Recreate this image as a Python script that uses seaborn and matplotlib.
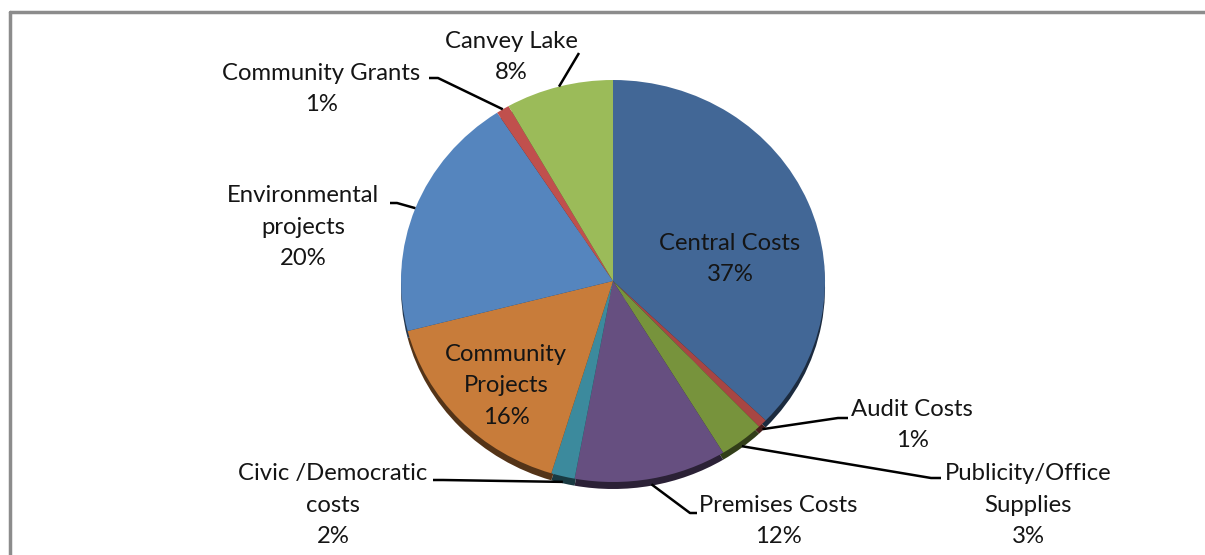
import matplotlib
matplotlib.use("Agg")
import matplotlib.pyplot as plt
import seaborn as sns
import numpy as np
from matplotlib.transforms import Affine2D
from matplotlib.colors import to_rgb

# ---- data ----
categories = ["Central Costs", "Audit Costs", "Publicity/Office\nSupplies",
              "Premises Costs", "Civic /Democratic\ncosts", "Community\nProjects",
              "Environmental\nprojects", "Community Grants", "Canvey Lake"]
shares = [37.2, 0.7, 3.4, 11.6, 1.8, 16.3, 19.8, 1.0, 8.2]
colors = ["#426796", "#A84643", "#77933C", "#664F80", "#3C8A9D",
          "#C87C3A", "#5585BE", "#C0504D", "#9BBB59"]

sns.set_theme(style="white")
plt.rcParams["font.family"] = ["Lato", "DejaVu Sans"]

W, H = 1205, 555
fig = plt.figure(figsize=(W / 100, H / 100), dpi=100)
ax = fig.add_axes([0, 0, 1, 1])

def Y(py):
    return H - py

cx, cy = 613, Y(281)
R = 212
squash = 201 / 212
rim = 7

def squash_tf(yc):
    return Affine2D().translate(-cx, -yc).scale(1, squash).translate(cx, yc)

# 3D rim (shadow copy shifted down)
dark = [tuple(c * 0.42 for c in to_rgb(col)) for col in colors]
sw, _ = ax.pie(shares, colors=dark, startangle=90, counterclock=False,
               center=(cx, cy - rim), radius=R, wedgeprops=dict(linewidth=0))
for w in sw:
    w.set_transform(squash_tf(cy - rim) + ax.transData)
    w.set_zorder(1)

wedges, _ = ax.pie(shares, colors=colors, startangle=90, counterclock=False,
                   center=(cx, cy), radius=R, wedgeprops=dict(linewidth=0))
for w in wedges:
    w.set_transform(squash_tf(cy) + ax.transData)
    w.set_zorder(2)

ax.set_aspect("auto")
ax.set_xlim(0, W)
ax.set_ylim(0, H)
ax.axis("off")

txt_color = "#151515"
fs = 17.2

def anchor(i):
    w = wedges[i]
    a = np.deg2rad((w.theta1 + w.theta2) / 2)
    y0 = cy - rim * 0.8 if np.sin(a) < 0 else cy
    return cx + R * np.cos(a), y0 + R * squash * np.sin(a)

# label layout: (text center x, y in px), leader knee points in px
layout = {
    0: dict(pos=(730, 259), knee=None),
    1: dict(pos=(912, 425), knee=[(848, 418), (838, 418)]),
    2: dict(pos=(1028, 505), knee=[(941, 478), (931, 478)]),
    3: dict(pos=(778, 521), knee=[(697, 513), (690, 513)]),
    4: dict(pos=(333, 505), knee=[(433, 480), (443, 480)]),
    5: dict(pos=(506, 386), knee=None),
    6: dict(pos=(303, 227), knee=[(390, 203), (397, 203)]),
    7: dict(pos=(321, 89), knee=[(429, 78), (438, 78)]),
    8: dict(pos=(511, 57), knee=[(579, 53)]),
}

for i, (cat, v) in enumerate(zip(categories, shares)):
    L = layout[i]
    ax.text(L["pos"][0], Y(L["pos"][1]), f"{cat}\n{v:.0f}%", ha="center",
            va="center", multialignment="center", fontsize=fs,
            color=txt_color, linespacing=1.62, zorder=5)
    if L["knee"]:
        ax_x, ax_y = anchor(i)
        xs = [p[0] for p in L["knee"]] + [ax_x]
        ys = [Y(p[1]) for p in L["knee"]] + [ax_y]
        ax.plot(xs, ys, color="black", lw=1.8, zorder=4,
                solid_capstyle="butt")

# chart frame
ax.plot([10, 10], [Y(12), 0], color="#8c8c8c", lw=2.5, zorder=6)
ax.plot([10, W], [Y(12), Y(12)], color="#8c8c8c", lw=2.5, zorder=6)

fig.savefig("out.png", dpi=100)
